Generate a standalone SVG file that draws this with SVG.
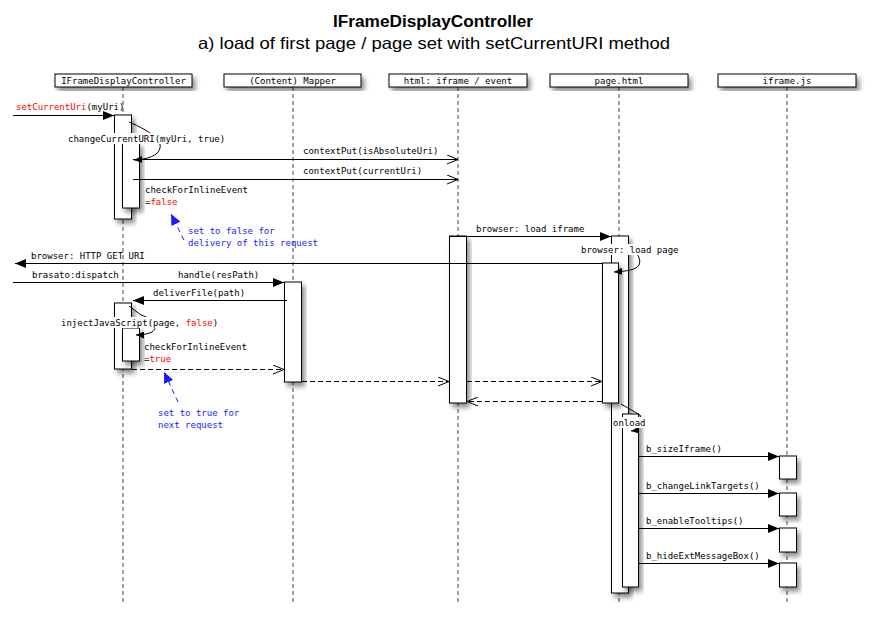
<svg xmlns="http://www.w3.org/2000/svg" width="875" height="617" viewBox="0 0 875 617">
<defs>
<filter id="sh" x="-30%" y="-30%" width="160%" height="160%">
<feDropShadow dx="3" dy="4" stdDeviation="2.5" flood-color="#000" flood-opacity="0.45"/>
</filter>
<marker id="fa" markerUnits="userSpaceOnUse" markerWidth="12" markerHeight="9" refX="11" refY="4.5" orient="auto">
<path d="M0,0 L11,4.5 L0,9 z" fill="#000"/>
</marker>
<marker id="fs" markerUnits="userSpaceOnUse" markerWidth="9" markerHeight="7" refX="8" refY="3.5" orient="auto">
<path d="M0,0 L8,3.5 L0,7 z" fill="#000"/>
</marker>
<marker id="oa" markerUnits="userSpaceOnUse" markerWidth="12" markerHeight="10" refX="11" refY="5" orient="auto">
<path d="M0,0.5 L11,5 L0,9.5" fill="none" stroke="#000" stroke-width="1"/>
</marker>
<marker id="ba" markerUnits="userSpaceOnUse" markerWidth="12" markerHeight="10" refX="11" refY="5" orient="auto">
<path d="M0,0 L11,5 L0,10 z" fill="#1a1aff"/>
</marker>
</defs>
<style>
.t{font-family:"DejaVu Sans Mono","Liberation Mono",monospace;font-size:9px;fill:#000}
.r{fill:#f00}
.b{font-family:"DejaVu Sans Mono","Liberation Mono",monospace;font-size:9px;fill:#1a1aff}
.hd{fill:#fff;stroke:#000;stroke-width:1;filter:url(#sh)}
.ll{stroke:#444;stroke-width:1;stroke-dasharray:4,3;fill:none}
.act{fill:#fff;stroke:#000;stroke-width:1;filter:url(#sh)}
.m{stroke:#000;stroke-width:1;fill:none}
.d{stroke:#000;stroke-width:1;fill:none;stroke-dasharray:5,3}
.bl{stroke:#1a1aff;stroke-width:1;fill:none;stroke-dasharray:5,4}
.bg{fill:#fff}
.ttl{font-family:"Liberation Sans","DejaVu Sans",sans-serif;fill:#000}
</style>
<rect width="875" height="617" fill="#fff"/>
<text class="ttl" x="433" y="27" text-anchor="middle" font-size="16" font-weight="bold" textLength="200" lengthAdjust="spacingAndGlyphs">IFrameDisplayController</text>
<text class="ttl" x="434" y="49" text-anchor="middle" font-size="16.5" textLength="472" lengthAdjust="spacingAndGlyphs">a) load of first page / page set with setCurrentURI method</text>

<g id="ifdc">
<line class="ll" x1="123" y1="87" x2="123" y2="605"/>
<rect class="hd" x="55" y="74" width="137" height="13"/>
<text class="t" x="123.5" y="84" text-anchor="middle">IFrameDisplayController</text>
<rect class="act" x="114.5" y="115" width="17" height="104"/>
<rect class="act" x="122.5" y="143" width="17" height="65"/>
<rect class="act" x="114.5" y="303" width="17" height="66"/>
<rect class="act" x="122.5" y="328" width="17" height="33"/>
</g>
<g id="mapper">
<line class="ll" x1="293" y1="87" x2="293" y2="605"/>
<rect class="hd" x="224" y="74" width="137" height="13"/>
<text class="t" x="292.5" y="84" text-anchor="middle">(Content) Mapper</text>
<rect class="act" x="284.5" y="282" width="17" height="100"/>
</g>
<g id="iframe-event">
<line class="ll" x1="458" y1="87" x2="458" y2="605"/>
<rect class="hd" x="389" y="74" width="138" height="13"/>
<text class="t" x="458" y="84" text-anchor="middle">html: iframe / event</text>
<rect class="act" x="449.5" y="236" width="17" height="167"/>
</g>
<g id="page">
<line class="ll" x1="619" y1="87" x2="619" y2="605"/>
<rect class="hd" x="550" y="74" width="138" height="13"/>
<text class="t" x="619" y="84" text-anchor="middle">page.html</text>
<rect class="act" x="611.5" y="236" width="17" height="357"/>
<rect class="act" x="602.5" y="263" width="16" height="140"/>
<rect class="act" x="622.5" y="414" width="16" height="173"/>
</g>
<g id="iframejs">
<line class="ll" x1="787" y1="87" x2="787" y2="605"/>
<rect class="hd" x="718" y="74" width="138" height="13"/>
<text class="t" x="787" y="84" text-anchor="middle">iframe.js</text>
<rect class="act" x="779.5" y="456" width="17" height="23"/>
<rect class="act" x="779.5" y="493" width="17" height="23"/>
<rect class="act" x="779.5" y="528" width="17" height="24"/>
<rect class="act" x="779.5" y="563" width="17" height="24"/>
</g>

<g id="connectors">
<line class="m" x1="13" y1="115.5" x2="114" y2="115.5" marker-end="url(#fa)"/>
<text class="t" x="16" y="110"><tspan class="r">setCurrentUri</tspan>(myUri)</text>

<path class="m" d="M129,122 C150,131 162,140 160,148 C158,156 148,159 134,160" marker-end="url(#fs)"/>
<rect class="bg" x="67" y="133" width="159" height="11"/>
<text class="t" x="68" y="142">changeCurrentURI(myUri, true)</text>

<line class="m" x1="133" y1="159.5" x2="458" y2="159.5" marker-end="url(#oa)"/>
<text class="t" x="303" y="154">contextPut(isAbsoluteUri)</text>
<line class="m" x1="133" y1="179.5" x2="458" y2="179.5" marker-end="url(#oa)"/>
<text class="t" x="303" y="174">contextPut(currentUri)</text>

<text class="t" x="145" y="193">checkForInlineEvent</text>
<text class="t" x="145" y="205">=<tspan class="r">false</tspan></text>
<line class="bl" x1="184" y1="240" x2="171" y2="214" marker-end="url(#ba)"/>
<text class="b" x="188" y="234">set to false for</text>
<text class="b" x="188" y="246">delivery of this request</text>

<line class="m" x1="449" y1="236.5" x2="611" y2="236.5" marker-end="url(#fa)"/>
<text class="t" x="476" y="232">browser: load iframe</text>

<path class="m" d="M626,244 C636,251 642,258 639,265 C636,270 628,271 614,272" marker-end="url(#fs)"/>
<rect class="bg" x="580" y="244" width="100" height="11"/>
<text class="t" x="581" y="253">browser: load page</text>

<line class="m" x1="602" y1="263.5" x2="15" y2="263.5" marker-end="url(#fa)"/>
<text class="t" x="31" y="259">browser: HTTP GET URI</text>

<line class="m" x1="13" y1="282.5" x2="284" y2="282.5" marker-end="url(#fa)"/>
<text class="t" x="32" y="278">brasato:dispatch</text>
<text class="t" x="178" y="278">handle(resPath)</text>

<line class="m" x1="287" y1="300.5" x2="133" y2="300.5" marker-end="url(#fa)"/>
<text class="t" x="153" y="296">deliverFile(path)</text>

<path class="m" d="M129,306 L141,315 C156,320 158,328 152,332 C148,334 142,335 136,335" marker-end="url(#fs)"/>
<rect class="bg" x="60" y="317" width="158" height="11"/>
<text class="t" x="61" y="326">injectJavaScript(page, <tspan class="r">false</tspan>)</text>

<text class="t" x="144" y="350">checkForInlineEvent</text>
<text class="t" x="144" y="362">=<tspan class="r">true</tspan></text>

<line class="d" x1="132" y1="369.5" x2="284" y2="369.5" marker-end="url(#oa)"/>
<line class="d" x1="302" y1="381.5" x2="449" y2="381.5" marker-end="url(#oa)"/>
<line class="d" x1="467" y1="381.5" x2="602" y2="381.5" marker-end="url(#oa)"/>
<line class="d" x1="602" y1="401.5" x2="467" y2="401.5" marker-end="url(#oa)"/>

<line class="bl" x1="178" y1="402" x2="164" y2="372" marker-end="url(#ba)"/>
<text class="b" x="158" y="416">set to true for</text>
<text class="b" x="158" y="428">next request</text>

<path class="m" d="M621,404 L640,415 C643,424 641,430 631,431" marker-end="url(#fs)"/>
<rect class="bg" x="612" y="417" width="36" height="11"/>
<text class="t" x="613" y="426">onload</text>

<line class="m" x1="638" y1="456.5" x2="779" y2="456.5" marker-end="url(#fa)"/>
<text class="t" x="646" y="452">b_sizeIframe()</text>
<line class="m" x1="638" y1="493.5" x2="779" y2="493.5" marker-end="url(#fa)"/>
<text class="t" x="646" y="489">b_changeLinkTargets()</text>
<line class="m" x1="638" y1="528.5" x2="779" y2="528.5" marker-end="url(#fa)"/>
<text class="t" x="646" y="524">b_enableTooltips()</text>
<line class="m" x1="638" y1="563.5" x2="779" y2="563.5" marker-end="url(#fa)"/>
<text class="t" x="646" y="559">b_hideExtMessageBox()</text>
</g>
</svg>
